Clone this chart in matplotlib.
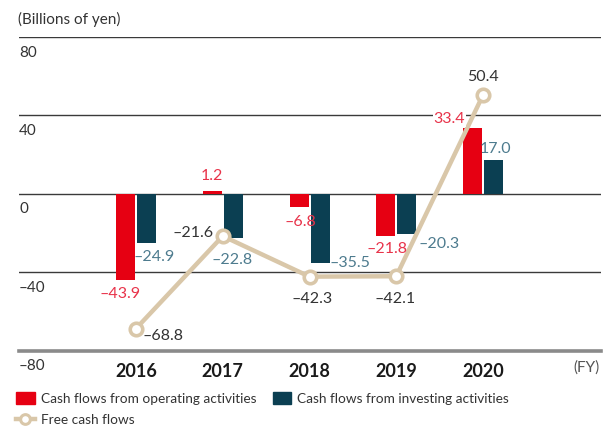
import numpy as np
import matplotlib.pyplot as plt
from matplotlib.patches import Patch
from matplotlib.lines import Line2D

plt.rcParams['font.family'] = ['Lato', 'DejaVu Sans']

years = ['2016', '2017', '2018', '2019', '2020']
operating = [-43.9, 1.2, -6.8, -21.8, 33.4]
investing = [-24.9, -22.8, -35.5, -20.3, 17.0]
free_cf = [-68.8, -21.6, -42.3, -42.1, 50.4]

RED = '#E60012'
TEAL = '#0B3F52'
TAN = '#D9C7A9'
RED_TXT = '#E8334A'
TEAL_TXT = '#4D7B8E'
DARK = '#333333'

def fmt(v):
    return ('–' if v < 0 else '') + f'{abs(v):.1f}'

fig = plt.figure(figsize=(6.05, 4.32), dpi=100)
ax = fig.add_axes([19/605, 1 - 350.5/432, 582/605, 313.5/432])
ax.set_xlim(-1.349, 5.36)
ax.set_ylim(-80, 80)
for s in ax.spines.values():
    s.set_visible(False)

# gridlines
for g in [80, 40, 0, -40]:
    ax.axhline(g, color='#3a3a3a', lw=1.0, zorder=1)
ax.axhline(-80, color='#8a8a8a', lw=2.6, zorder=1, clip_on=False)

# y tick labels sit just under each gridline
for g in [80, 40, 0, -40, -80]:
    lab = ('–' if g < 0 else '') + str(abs(g))
    ax.text(0.0, g - 4.4, lab, transform=ax.get_yaxis_transform(),
            ha='left', va='top', fontsize=11, color=DARK)
ax.set_yticks([])

x = np.arange(len(years))
w = 0.219
off = 0.121
ax.bar(x - off, operating, w, color=RED, zorder=2)
ax.bar(x + off, investing, w, color=TEAL, zorder=2)
ax.plot(x, free_cf, color=TAN, lw=3.2, marker='o', ms=9, mfc='white',
        mec=TAN, mew=2.6, zorder=4, solid_capstyle='round')

ax.set_xticks(x)
ax.set_xticklabels(years, fontsize=13, fontweight='bold', color='#1a1a1a')
ax.tick_params(axis='x', length=0, pad=9)

# data label offsets (data units)
op_pos = [(-0.18, -7.2), (-0.12, 8.0), (-0.11, -7.5), (-0.11, -6.3), (-0.39, 4.9)]
inv_pos = [(0.21, -7.3), (0.11, -10.9), (0.47, 0.0), (0.49, -5.2), (0.14, 6.0)]
fcf_pos = [(0.31, -3.7), (-0.34, 1.7), (0.03, -11.3), (-0.01, -11.5), (0.0, 9.4)]
for i in range(len(years)):
    dx, dy = op_pos[i]
    ax.text(x[i] + dx, operating[i] + dy, fmt(operating[i]), ha='center', va='center',
            fontsize=11.5, color=RED_TXT, zorder=5,
            bbox=dict(boxstyle='square,pad=0.05', fc='white', ec='none') if i == 4 else None)
    dx, dy = inv_pos[i]
    ax.text(x[i] + dx, investing[i] + dy, fmt(investing[i]), ha='center', va='center',
            fontsize=11.5, color=TEAL_TXT, zorder=5)
    dx, dy = fcf_pos[i]
    ax.text(x[i] + dx, free_cf[i] + dy, fmt(free_cf[i]), ha='center', va='center',
            fontsize=11.5, color=DARK, zorder=5)

fig.text(18/605, 1 - 19/432, '(Billions of yen)', ha='left', va='center',
         fontsize=11, color=DARK)
fig.text(600/605, 1 - 368/432, '(FY)', ha='right', va='center',
         fontsize=11, color='#555555')

handles = [Patch(color=RED, label='Cash flows from operating activities'),
           Line2D([], [], color=TAN, lw=3.2, marker='o', ms=7, mfc='white', mec=TAN,
                  mew=2.2, label='Free cash flows'),
           Patch(color=TEAL, label='Cash flows from investing activities')]
fig.legend(handles=handles, ncol=2, loc='upper left', bbox_to_anchor=(4/605, 1 - 380/432),
           frameon=False, fontsize=9.8, handlelength=1.35, handleheight=0.9,
           handletextpad=0.45, columnspacing=1.2, labelspacing=0.65,
           labelcolor=DARK)

fig.savefig('out.png', dpi=100)
